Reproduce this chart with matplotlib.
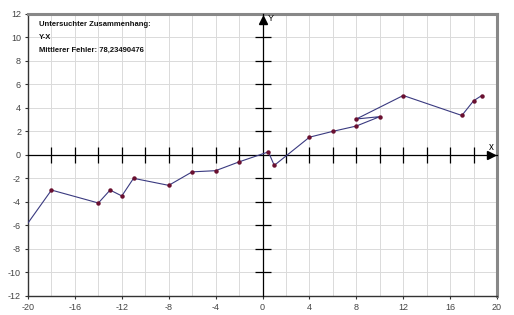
import matplotlib
matplotlib.use("Agg")
import matplotlib.pyplot as plt

plt.rcParams['font.family'] = ['Liberation Sans', 'DejaVu Sans']
plt.rcParams['axes.unicode_minus'] = False

# data
x_vals = [-20, -18, -14, -13, -12, -11, -8, -6, -4, -2, 0.5, 1, 4, 6, 8, 10, 8, 12, 17, 18, 18.7]
y_vals = [-5.8, -3.0, -4.1, -3.0, -3.5, -2.0, -2.6, -1.45, -1.35, -0.6, 0.25, -0.9,
          1.5, 2.0, 2.45, 3.25, 3.05, 5.05, 3.35, 4.6, 5.05]
x_ticks = [-20, -16, -12, -8, -4, 0, 4, 8, 12, 16, 20]
y_ticks = [-12, -10, -8, -6, -4, -2, 0, 2, 4, 6, 8, 10, 12]
grid_steps = list(range(-20, 21, 2))
info_lines = ["Untersuchter Zusammenhang:", "Y-X", "Mittlerer Fehler: 78,23490476"]

fig = plt.figure(figsize=(5.14, 3.15), dpi=100)
rect = [0.0545, 0.061, 0.9125, 0.895]
ax = fig.add_axes(rect)
ax.set_xlim(-20, 20)
ax.set_ylim(-12, 12)

# grid every 2 units
ax.set_xticks(grid_steps, minor=True)
ax.set_xticks(x_ticks)
ax.set_yticks(y_ticks)
ax.grid(which='both', color='#dadada', linewidth=0.7)
ax.tick_params(which='major', length=2, color='#333333', labelsize=6.5,
               labelcolor='#444444', pad=3)
ax.tick_params(which='minor', length=0)

for side in ['left', 'bottom']:
    ax.spines[side].set_color('#333333')
    ax.spines[side].set_linewidth(1.0)
for side in ['top', 'right']:
    ax.spines[side].set_color('#888888')
    ax.spines[side].set_linewidth(2.2)

# central coordinate axes with crossing ticks
ax2 = fig.add_axes(rect)
ax2.set_xlim(-20, 20)
ax2.set_ylim(-12, 12)
ax2.set_facecolor('none')
for side in ['left', 'bottom']:
    ax2.spines[side].set_position(('data', 0))
    ax2.spines[side].set_color('black')
    ax2.spines[side].set_linewidth(0.9)
ax2.spines['top'].set_visible(False)
ax2.spines['right'].set_visible(False)
ax2.set_xticks([t for t in grid_steps if t not in (-20, 0, 20)])
ax2.set_yticks([t for t in y_ticks if t not in (-12, 0, 12)])
ax2.tick_params(direction='inout', length=11, width=0.9, color='black',
                labelbottom=False, labelleft=False)
ax2.plot(0.988, 0, '>', color='black', markersize=5.5, transform=ax2.get_yaxis_transform(),
         clip_on=False)
ax2.plot(0, 0.978, '^', color='black', markersize=5.5, transform=ax2.get_xaxis_transform(),
         clip_on=False)
ax2.text(0.987, 0.528, 'x', transform=ax2.transAxes, fontsize=7, ha='center', va='center')
ax2.text(0.512, 0.982, 'Y', transform=ax2.transAxes, fontsize=6.5, ha='left', va='center')

# data series
ax2.plot(x_vals, y_vals, color='#3a3a80', linewidth=0.8, zorder=5)
ax2.plot(x_vals[1:], y_vals[1:], 'o', color='#6a1030', markersize=2.2, zorder=6)

# info text
for i, line in enumerate(info_lines):
    ax2.text(0.024, 0.961 - i * 0.045, line, transform=ax2.transAxes,
             fontsize=5.5, fontweight='bold', color='#111111', va='center')

fig.savefig('out.png', dpi=100)
